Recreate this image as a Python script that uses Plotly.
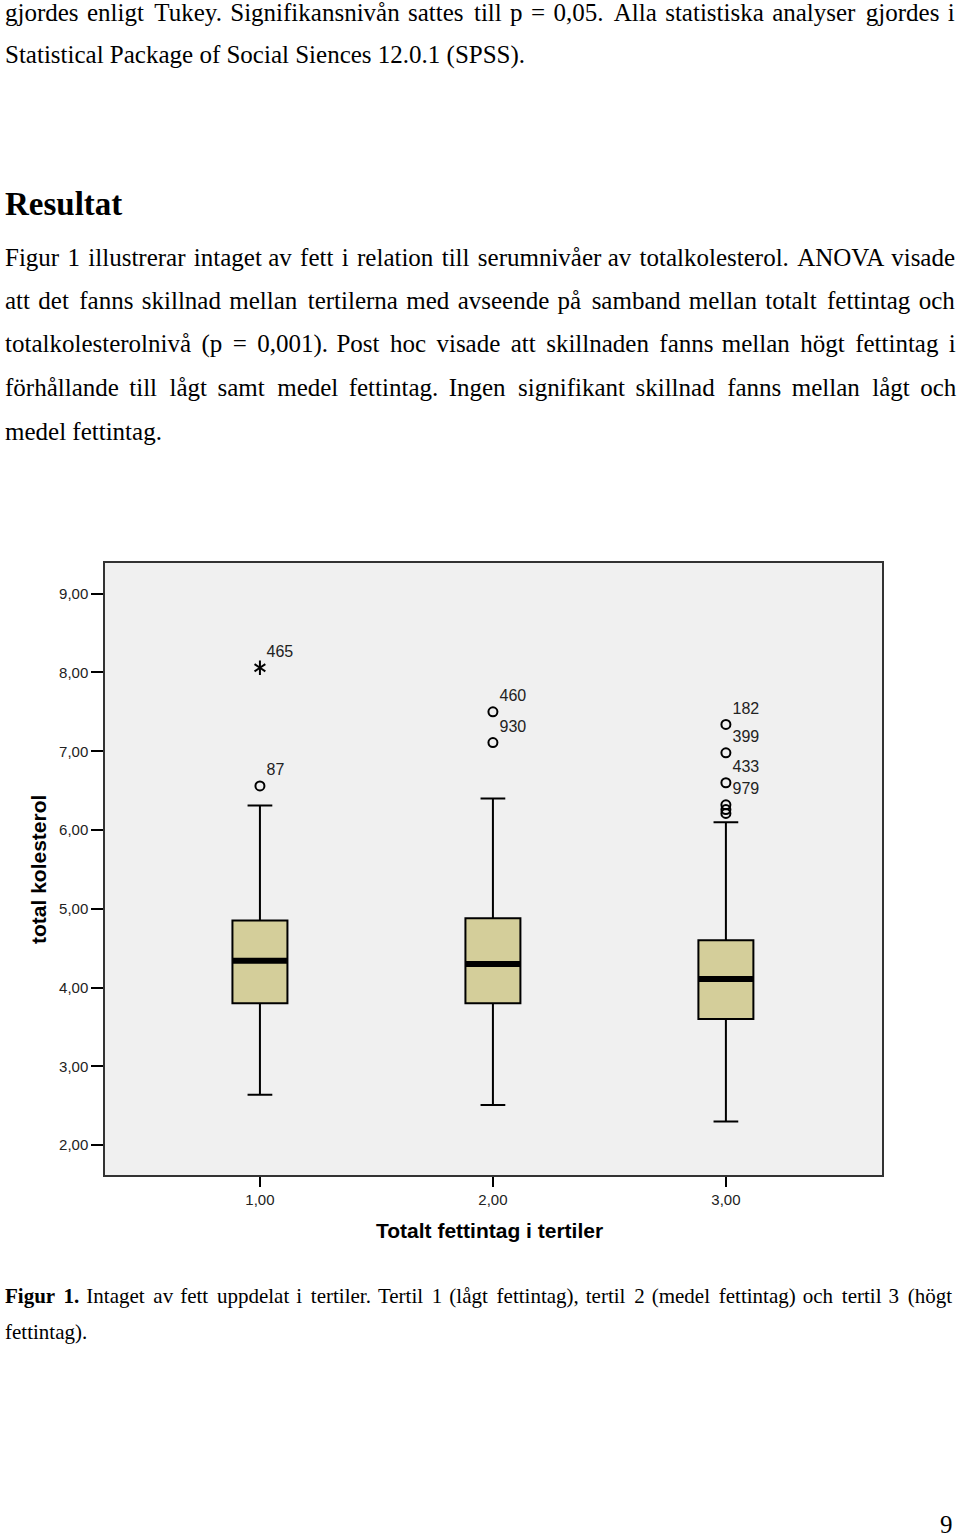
import plotly.graph_objects as go

# ---------------------------------
# data (SPSS)
# ---------------------------------
groups = [1, 2, 3]
group_labels = ["1,00", "2,00", "3,00"]
lower_whisker = [2.64, 2.51, 2.30]
q1 = [3.80, 3.80, 3.60]
median = [4.34, 4.30, 4.11]
q3 = [4.85, 4.88, 4.60]
upper_whisker = [6.31, 6.40, 6.10]

# outliers (circles) and extremes (stars)
outlier_x = [1, 2, 2, 3, 3, 3, 3, 3, 3]
outlier_y = [6.56, 7.50, 7.11, 7.34, 6.98, 6.60, 6.32, 6.26, 6.21]
outlier_ids = ["87", "460", "930", "182", "399", "433", "979", "", ""]
extreme_x = [1]
extreme_y = [8.06]
extreme_ids = ["465"]

y_ticks = [2, 3, 4, 5, 6, 7, 8, 9]
y_ticktext = ["2,00", "3,00", "4,00", "5,00", "6,00", "7,00", "8,00", "9,00"]

# page text
intro_lines = [
    "gjordes enligt Tukey. Signifikansnivån sattes till p = 0,05. Alla statistiska analyser gjordes i",
    "Statistical Package of Social Siences 12.0.1 (SPSS).",
]
heading = "Resultat"
result_lines = [
    "Figur 1 illustrerar intaget av fett i relation till serumnivåer av totalkolesterol. ANOVA visade",
    "att det fanns skillnad mellan tertilerna med avseende på samband mellan totalt fettintag och",
    "totalkolesterolnivå (p = 0,001). Post hoc visade att skillnaden fanns mellan högt fettintag i",
    "förhållande till lågt samt medel fettintag. Ingen signifikant skillnad fanns mellan lågt och",
    "medel fettintag.",
]
caption_lines = [
    "<b>Figur 1.</b> Intaget av fett uppdelat i tertiler. Tertil 1 (lågt fettintag), tertil 2 (medel fettintag) och tertil 3 (högt",
    "fettintag).",
]

# extra hair spaces per line to mimic the justified paragraphs (0 = ragged last line)
intro_pad = [17, 0]
result_pad = [11, 17, 24, 29, 0]
caption_pad = [29, 0]

W, H = 960, 1537
BOX_W = 0.236
BOX_FILL = "#d4ce9a"
SANS = "Liberation Sans, Arial, sans-serif"
SERIF = "Liberation Serif, Times New Roman, serif"


def py(pix):
    # pixel row -> paper y
    return 1 - pix / H


def justify(txt, extra):
    # spread `extra` hair spaces over the word gaps
    if extra <= 0:
        return txt
    parts = txt.split(" ")
    gaps = len(parts) - 1
    out = parts[0]
    done = 0
    for k in range(1, len(parts)):
        n = round(extra * k / gaps) - done
        done += n
        out += " " + "\u200a" * n + parts[k]
    return out


fig = go.Figure()

# ----------------
# boxes
# ----------------
for i, g in enumerate(groups):
    fig.add_trace(go.Box(
        x=[g],
        q1=[q1[i]], median=[median[i]], q3=[q3[i]],
        lowerfence=[lower_whisker[i]], upperfence=[upper_whisker[i]],
        width=BOX_W,
        whiskerwidth=0.45,
        fillcolor=BOX_FILL,
        line=dict(color="black", width=2),
        boxpoints=False,
        hoverinfo="skip",
        showlegend=False,
    ))

# thick median bars drawn on top
mx, my = [], []
for g, m in zip(groups, median):
    mx += [g - BOX_W / 2, g + BOX_W / 2, None]
    my += [m, m, None]
fig.add_trace(go.Scatter(x=mx, y=my, mode="lines",
                         line=dict(color="black", width=6),
                         hoverinfo="skip", showlegend=False))

# outliers
fig.add_trace(go.Scatter(
    x=outlier_x, y=outlier_y, mode="markers+text",
    marker=dict(symbol="circle-open", size=9, color="black", line=dict(width=2)),
    text=outlier_ids, textposition="top right",
    textfont=dict(family=SANS, size=16, color="#222"),
    hoverinfo="skip", showlegend=False,
))

# extremes: six-armed star from two "y" markers, label on the second one
fig.add_trace(go.Scatter(
    x=extreme_x, y=extreme_y, mode="markers",
    marker=dict(symbol="y-up-open", size=9, color="black", line=dict(width=2, color="black")),
    hoverinfo="skip", showlegend=False,
))
fig.add_trace(go.Scatter(
    x=extreme_x, y=extreme_y, mode="markers+text",
    marker=dict(symbol="y-down-open", size=9, color="black", line=dict(width=2, color="black")),
    text=extreme_ids, textposition="top right",
    textfont=dict(family=SANS, size=16, color="#222"),
    hoverinfo="skip", showlegend=False,
))

fig.update_xaxes(
    domain=[105 / W, 882 / W],
    range=[0.335, 3.67],
    tickvals=groups, ticktext=group_labels,
    ticks="outside", ticklen=10, tickwidth=2, tickcolor="black",
    showline=True, mirror=True, linecolor="#333", linewidth=1.5,
    showgrid=False, zeroline=False,
    tickfont=dict(family=SANS, size=15, color="#222"),
)
fig.update_yaxes(
    domain=[py(1175), py(563)],
    range=[1.62, 9.39],
    tickvals=y_ticks, ticktext=y_ticktext,
    ticks="outside", ticklen=12, tickwidth=2, tickcolor="black",
    showline=True, mirror=True, linecolor="#333", linewidth=1.5,
    showgrid=False, zeroline=False,
    tickfont=dict(family=SANS, size=15, color="#222"),
)

ann = []
# axis titles
ann.append(dict(text="<b>Totalt fettintag i tertiler</b>", x=490 / W, y=py(1230),
                xref="paper", yref="paper", xanchor="center", yanchor="middle",
                showarrow=False, font=dict(family=SANS, size=21, color="black")))
ann.append(dict(text="<b>total kolesterol</b>", x=38 / W, y=py(870), textangle=-90,
                xref="paper", yref="paper", xanchor="center", yanchor="middle",
                showarrow=False, font=dict(family=SANS, size=21, color="black")))

# page text
def line(txt, ypix, size=25, xpix=3):
    ann.append(dict(text=txt, x=xpix / W, y=py(ypix), xref="paper", yref="paper",
                    xanchor="left", yanchor="middle", showarrow=False,
                    font=dict(family=SERIF, size=size, color="black")))

for k, t in enumerate(intro_lines):
    line(justify(t, intro_pad[k]), 12 + k * 43, 25)
line("<b>" + heading + "</b>", 204, 33)
for k, t in enumerate(result_lines):
    line(justify(t, result_pad[k]), 257 + k * 43.5, 25)
for k, t in enumerate(caption_lines):
    line(justify(t, caption_pad[k]), 1296 + k * 36, 21)
ann.append(dict(text="9", x=955 / W, y=py(1524), xref="paper", yref="paper",
                xanchor="right", yanchor="middle", showarrow=False,
                font=dict(family=SERIF, size=25, color="black")))

fig.update_layout(
    width=W, height=H,
    margin=dict(l=0, r=0, t=0, b=0),
    paper_bgcolor="white",
    plot_bgcolor="#f0f0f0",
    annotations=ann,
    showlegend=False,
)

# page body has a default margin; drop it so the figure sits at the window origin
fig.write_html("out.html", config={"displayModeBar": False},
               post_script="document.body.style.margin='0px';")
